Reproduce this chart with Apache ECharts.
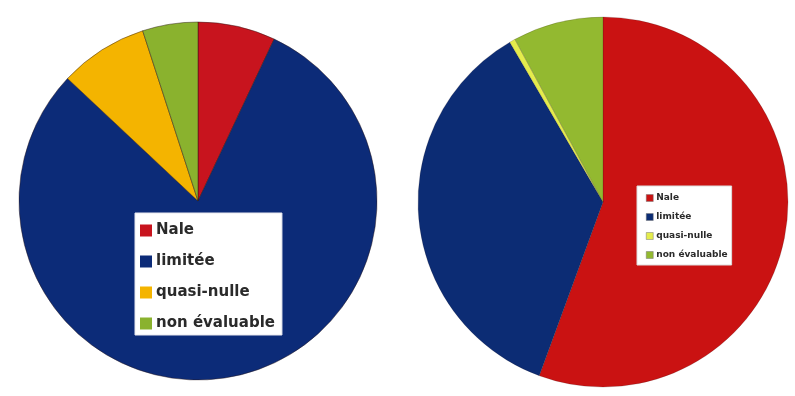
<!DOCTYPE html>
<html>
<head>
<meta charset="utf-8">
<script src="https://cdn.jsdelivr.net/npm/echarts@6/dist/echarts.min.js"></script>
<style>
  html, body { margin: 0; padding: 0; background: #fff; }
  #chart { width: 795px; height: 396px; }
</style>
</head>
<body>
<div id="chart"></div>
<script>
// Share of each category, in percent, for the two pies
const categories = ['Nale', 'limitée', 'quasi-nulle', 'non évaluable'];
const leftValues = [7, 80, 8, 5];
const rightValues = [55.6, 36, 0.5, 7.9];

const leftColors = ['#C8141E', '#0C2B78', '#F4B400', '#8AB22E'];
const rightColors = ['#CA1212', '#0C2C74', '#E4EC4C', '#93B930'];

function slices(values, colors) {
  return categories.map((name, i) => ({
    name: name,
    value: values[i],
    itemStyle: { color: colors[i] }
  }));
}

const chart = echarts.init(document.getElementById('chart'), null, { renderer: 'canvas' });

chart.setOption({
  backgroundColor: '#ffffff',
  animation: false,
  legend: [
    {
      data: categories.map((name, i) => ({
        name: name,
        itemStyle: { color: leftColors[i], borderWidth: 0 }
      })),
      orient: 'vertical',
      left: 135,
      top: 213,
      icon: 'rect',
      itemWidth: 12,
      itemHeight: 12,
      itemGap: 12,
      padding: [8, 7, 2, 5],
      backgroundColor: '#ffffff',
      borderColor: '#e8e8ee',
      borderWidth: 1,
      borderRadius: 0,
      selectedMode: false,
      textStyle: {
        fontFamily: 'DejaVu Sans',
        fontSize: 15,
        fontWeight: 'bold',
        color: '#2a2a2a',
        lineHeight: 19,
        padding: [0, 0, 0, -1]
      }
    },
    {
      data: categories.map((name, i) => ({
        name: name,
        itemStyle: { color: rightColors[i], borderColor: '#777', borderWidth: 0.5 }
      })),
      orient: 'vertical',
      left: 637,
      top: 186,
      icon: 'rect',
      itemWidth: 7,
      itemHeight: 7,
      itemGap: 7,
      padding: [6, 4, 4, 9],
      backgroundColor: '#ffffff',
      borderColor: '#dddddd',
      borderWidth: 1,
      borderRadius: 0,
      selectedMode: false,
      textStyle: {
        fontFamily: 'DejaVu Sans',
        fontSize: 9,
        fontWeight: 'bold',
        color: '#2a2a2a',
        lineHeight: 12,
        padding: [0, 0, 0, -2]
      }
    }
  ],
  series: [
    {
      type: 'pie',
      center: [198, 201],
      radius: 179,
      startAngle: 90,
      clockwise: true,
      label: { show: false },
      labelLine: { show: false },
      emphasis: { disabled: true },
      itemStyle: { borderColor: 'rgba(40,20,20,0.45)', borderWidth: 1 },
      data: slices(leftValues, leftColors)
    },
    {
      type: 'pie',
      center: [603, 202],
      radius: 185,
      startAngle: 90,
      clockwise: true,
      minAngle: 0,
      label: { show: false },
      labelLine: { show: false },
      emphasis: { disabled: true },
      itemStyle: { borderColor: 'rgba(40,20,20,0.3)', borderWidth: 0.6 },
      data: slices(rightValues, rightColors)
    }
  ]
});
</script>
</body>
</html>
